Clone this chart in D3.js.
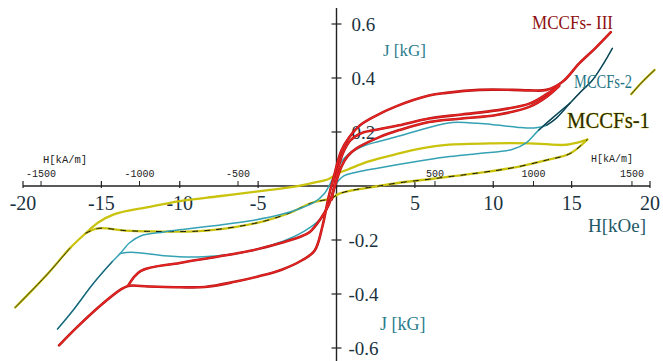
<!DOCTYPE html>
<html>
<head>
<meta charset="utf-8">
<script src="https://cdn.jsdelivr.net/npm/d3@7"></script>
<style>
  body { margin: 0; background: #fff; }
  svg { display: block; }
</style>
</head>
<body>
<div id="chart"></div>
<script>
// Axis ticks.
const hTicks = [-20, -15, -10, -5, 5, 10, 15, 20];
const kamTicks = [-1500, -1000, -500, 500, 1000, 1500];
const jTicks = [0.6, 0.4, 0.2, -0.2, -0.4, -0.6];
const KOE_PER_KAM = 1 / 79.577;

// MCCFs-III (red) - H[kOe], J[kG]
const redOuter = [
  [-17.7, -0.59], [-16.5, -0.52], [-15, -0.44], [-13.8, -0.385], [-13.3, -0.37],
  [-12, -0.372], [-10, -0.375], [-8.4, -0.374], [-6.5, -0.355], [-5, -0.335],
  [-3.5, -0.31], [-2.2, -0.275], [-1.4, -0.24], [-0.9, -0.15], [-0.5, -0.04],
  [-0.1, 0.05], [0.3, 0.13], [0.8, 0.18], [1.5, 0.225], [2.5, 0.26], [3.8, 0.295],
  [5.9, 0.335], [7, 0.345], [9.1, 0.356], [11.2, 0.356], [12.3, 0.354], [13.4, 0.356],
  [14.4, 0.385], [15.5, 0.455], [16.5, 0.51], [17.5, 0.57]
];
const redInner = [
  [-13.3, -0.37], [-12.5, -0.315], [-10, -0.285], [-7.6, -0.262], [-5.5, -0.24],
  [-3.5, -0.21], [-2.4, -0.19], [-1.7, -0.17], [-1, -0.12], [-0.5, -0.07],
  [-0.1, 0.0], [0.3, 0.07], [0.7, 0.11], [1.3, 0.14], [2.7, 0.18], [4, 0.207],
  [5.9, 0.237], [8, 0.25], [10.2, 0.263], [12.3, 0.293], [13.4, 0.33], [14.2, 0.37]
];
const redInner2 = [
  [-0.3, -0.05], [0, 0.04], [0.4, 0.12], [0.9, 0.17], [1.6, 0.196], [2.7, 0.21],
  [4, 0.225], [5.9, 0.25], [8, 0.265], [10.2, 0.28], [12.3, 0.305], [13.4, 0.34], [14.2, 0.372]
];

// MCCFs-2 (teal)
const tealUpper = [
  [-17.8, -0.53], [-16.8, -0.46], [-15.5, -0.36], [-14.3, -0.28], [-13.8, -0.25],
  [-13.2, -0.21], [-12.5, -0.185], [-11, -0.17], [-9.7, -0.16], [-7.5, -0.145],
  [-5.6, -0.13], [-3.5, -0.105], [-2.4, -0.085], [-1.4, -0.06], [-0.8, -0.03],
  [-0.3, 0.02], [0.2, 0.08], [0.8, 0.12], [1.8, 0.15], [2.7, 0.165], [4, 0.185],
  [5.5, 0.21], [7.4, 0.235], [9, 0.232], [10.2, 0.226], [11.5, 0.218], [12.6, 0.215],
  [13.4, 0.225], [14, 0.25], [14.9, 0.307], [15.6, 0.35], [16.3, 0.39], [17, 0.45], [17.6, 0.51]
];
const tealLower = [
  [-13.8, -0.25], [-13.1, -0.245], [-11, -0.258], [-9.3, -0.263], [-7.5, -0.258],
  [-6.3, -0.25], [-4.5, -0.225], [-3.1, -0.197], [-2, -0.165], [-1, -0.12],
  [-0.5, -0.07], [-0.1, 0.0], [0.4, 0.035], [1.2, 0.05], [2.7, 0.067], [5, 0.09],
  [7, 0.107], [9.1, 0.12], [11.2, 0.135], [12.1, 0.16], [12.9, 0.207], [14, 0.263], [14.9, 0.307]
];

// MCCFs-1 (yellow)
const yellowUpper = [
  [-20.5, -0.45], [-18.5, -0.33], [-17, -0.23], [-16, -0.175], [-15.2, -0.135],
  [-14.2, -0.105], [-12, -0.078], [-10, -0.056], [-7.5, -0.038], [-5, -0.02],
  [-3, -0.005], [-1.5, 0.012], [-0.5, 0.026], [0, 0.044], [0.8, 0.063], [2, 0.09],
  [3.8, 0.118], [5.5, 0.14], [7, 0.152], [10, 0.158], [12.3, 0.158], [13.4, 0.155],
  [14.5, 0.152], [15.3, 0.16], [16, 0.172]
];
const yellowLower = [
  [-16, -0.175], [-15.2, -0.157], [-13.5, -0.165], [-12, -0.168], [-8.8, -0.167],
  [-6.5, -0.152], [-4.6, -0.13], [-3, -0.1], [-1.6, -0.063], [-0.3, -0.045],
  [0.1, -0.03], [1, -0.016], [2.7, 0.0], [4, 0.012], [5.9, 0.025], [7, 0.033],
  [9, 0.048], [11.2, 0.067], [13.4, 0.096], [14.9, 0.12], [16, 0.172]
];
const yellowStub = [[18.8, 0.34], [19.5, 0.385], [20.3, 0.43]];

const width = 663;
const height = 361;

const svg = d3.select("#chart")
  .append("svg")
  .attr("width", width)
  .attr("height", height);

const x = d3.scaleLinear().domain([-20, 20]).range([23, 650]);
const y = d3.scaleLinear().domain([-0.6, 0.6]).range([348, 24]);

const serif = "'Liberation Serif', 'Times New Roman', serif";
const mono = "'Liberation Mono', 'Courier New', monospace";
const labelColor = "#1a3240";

// H axis (kOe) through J = 0
const xAxis = svg.append("g").attr("transform", `translate(0,${y(0)})`);
xAxis.append("line")
  .attr("x1", x(-20)).attr("x2", x(20))
  .attr("stroke", "#222").attr("stroke-width", 1.4);
xAxis.selectAll(".major").data(hTicks.concat([0])).enter().append("line")
  .attr("x1", d => x(d)).attr("x2", d => x(d))
  .attr("y1", -5).attr("y2", 2)
  .attr("stroke", "#222").attr("stroke-width", 1.2);
xAxis.selectAll(".minor").data(kamTicks).enter().append("line")
  .attr("x1", d => x(d * KOE_PER_KAM)).attr("x2", d => x(d * KOE_PER_KAM))
  .attr("y1", -5).attr("y2", 0)
  .attr("stroke", "#222").attr("stroke-width", 1);
xAxis.selectAll(".hlab").data(hTicks).enter().append("text")
  .attr("x", d => x(d)).attr("y", 24)
  .attr("text-anchor", "middle")
  .attr("font-family", serif).attr("font-size", 20)
  .attr("fill", labelColor)
  .text(d => d);
xAxis.selectAll(".klab").data(kamTicks).enter().append("text")
  .attr("x", d => x(d * KOE_PER_KAM)).attr("y", -9)
  .attr("text-anchor", "middle")
  .attr("font-family", mono).attr("font-size", 10)
  .attr("fill", "#222")
  .text(d => d);

svg.append("text").attr("x", 43).attr("y", 163)
  .attr("font-family", mono).attr("font-size", 10.5)
  .attr("fill", "#222").text("H[kA/m]");
svg.append("text").attr("x", 591).attr("y", 162)
  .attr("font-family", mono).attr("font-size", 10)
  .attr("fill", "#222").text("H[kA/m]");
svg.append("text").attr("x", 588).attr("y", 232)
  .attr("font-family", serif).attr("font-size", 19)
  .attr("fill", "#1f5a68").text("H[kOe]");

// J axis through H = 0
const yAxis = svg.append("g").attr("transform", `translate(${x(0)},0)`);
yAxis.append("line")
  .attr("y1", 8).attr("y2", height)
  .attr("stroke", "#222").attr("stroke-width", 1.4);
yAxis.selectAll(".yt").data(jTicks).enter().append("line")
  .attr("x1", -5).attr("x2", 5)
  .attr("y1", d => y(d)).attr("y2", d => y(d))
  .attr("stroke", "#222").attr("stroke-width", 1.2);
yAxis.selectAll(".ylab").data(jTicks).enter().append("text")
  .attr("x", d => d < 0 ? 12 : 15).attr("y", d => y(d) + 7)
  .attr("font-family", serif).attr("font-size", 19)
  .attr("fill", labelColor)
  .text(d => d.toFixed(1));

svg.append("text").attr("x", 383).attr("y", 56)
  .attr("font-family", serif).attr("font-size", 17)
  .attr("fill", "#2a7d8c").text("J [kG]");
svg.append("text").attr("x", 380).attr("y", 330)
  .attr("font-family", serif).attr("font-size", 18)
  .attr("fill", "#2a7d8c").text("J [kG]");

// Curves
const line = d3.line()
  .x(d => x(d[0]))
  .y(d => y(d[1]))
  .curve(d3.curveCatmullRom.alpha(0.5));

function drawCurve(pts, color, w, dash) {
  svg.append("path")
    .datum(pts)
    .attr("d", line)
    .attr("fill", "none")
    .attr("stroke", color)
    .attr("stroke-width", w)
    .attr("stroke-linejoin", "round")
    .attr("stroke-linecap", "round")
    .attr("stroke-dasharray", dash || null);
}

// MCCFs-1
[yellowUpper, yellowLower, yellowStub].forEach(s => drawCurve(s, "#c9c30e", 2.3));
drawCurve(yellowLower, "#111", 1, "5,7");
drawCurve(yellowUpper.filter(d => d[0] < -16), "#222", 0.9);
drawCurve(yellowStub, "#222", 0.9);

// MCCFs-2
[tealUpper, tealLower].forEach(s => drawCurve(s, "#34a2b4", 1.5));
drawCurve(tealUpper.filter(d => d[0] >= 13.4), "#163a48", 1.2);
drawCurve(tealLower.filter(d => d[0] >= 12.9), "#163a48", 1.2);
drawCurve(tealUpper.filter(d => d[0] <= -14.3), "#1d5f70", 1.1);

// MCCFs-III: darker edge under a bright core
[redOuter, redInner, redInner2].forEach(s => drawCurve(s, "#b51414", 2.6));
[redOuter, redInner, redInner2].forEach(s => drawCurve(s, "#e82424", 1.4));

// Series labels
svg.append("text").attr("x", 532).attr("y", 29)
  .attr("font-family", serif).attr("font-size", 19)
  .attr("textLength", 81).attr("lengthAdjust", "spacingAndGlyphs")
  .attr("fill", "#8e1010").text("MCCFs- III");
svg.append("text").attr("x", 574).attr("y", 88)
  .attr("font-family", serif).attr("font-size", 19)
  .attr("textLength", 58).attr("lengthAdjust", "spacingAndGlyphs")
  .attr("fill", "#1f7585").text("MCCFs-2");
svg.append("text").attr("x", 567).attr("y", 128)
  .attr("font-family", serif).attr("font-size", 24)
  .attr("textLength", 83).attr("lengthAdjust", "spacingAndGlyphs")
  .attr("fill", "#2c2a00")
  .attr("stroke", "#d8d420").attr("stroke-width", 0.6)
  .attr("paint-order", "stroke")
  .text("MCCFs-1");
</script>
</body>
</html>
